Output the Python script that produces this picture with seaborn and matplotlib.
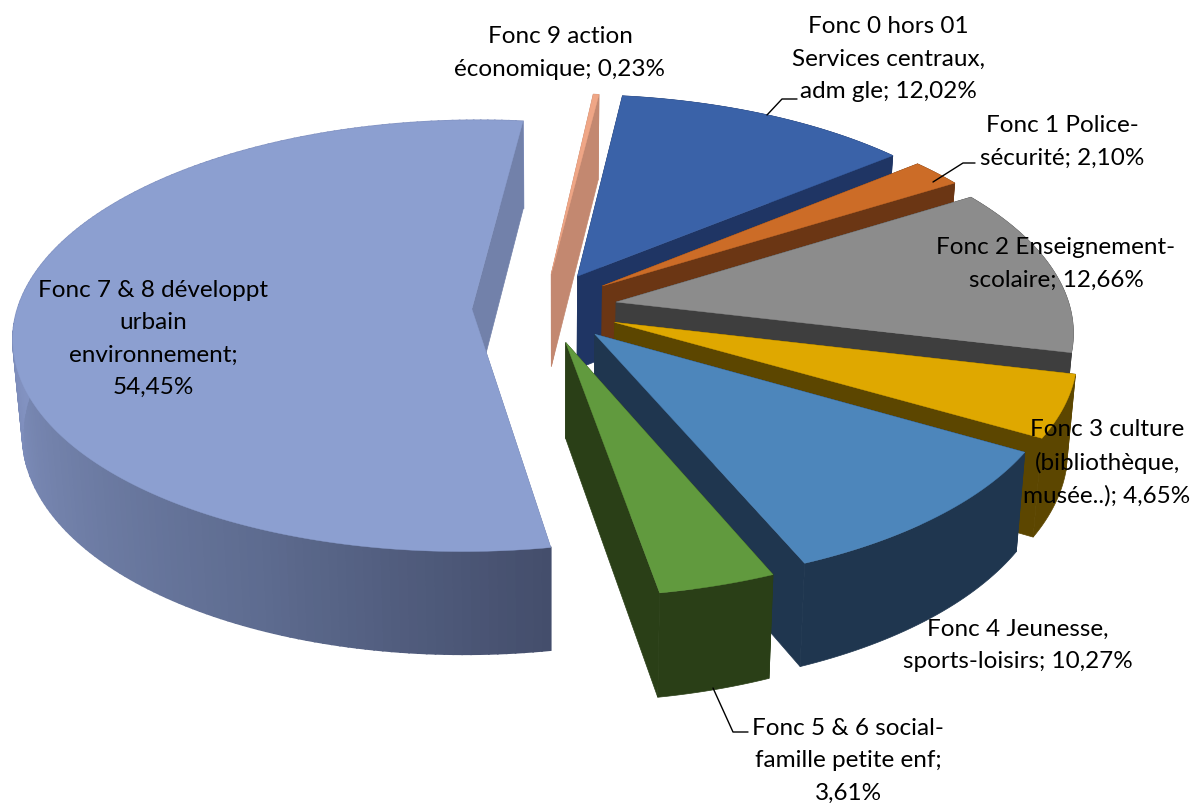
import numpy as np
import matplotlib
matplotlib.use('Agg')
import matplotlib.pyplot as plt
import seaborn as sns

# ====== DATA
labels = ['Fonc 0 hors 01\nServices centraux,\nadm gle; 12,02%',
          'Fonc 1 Police-\nsécurité; 2,10%',
          'Fonc 2 Enseignement-\nscolaire; 12,66%',
          'Fonc 3 culture\n(bibliothèque,\nmusée..); 4,65%',
          'Fonc 4 Jeunesse,\nsports-loisirs; 10,27%',
          'Fonc 5 & 6 social-\nfamille petite enf;\n3,61%',
          'Fonc 7 & 8 développt\nurbain\nenvironnement;\n54,45%',
          'Fonc 9 action\néconomique; 0,23%']
shares = [12.02, 2.10, 12.66, 4.65, 10.27, 3.61, 54.45, 0.23]

# ====== STYLE
explode = [0.18, 0.18, 0.175, 0.18, 0.18, 0.19, 0.1435, 0.18]
nudge = [(2, 1), (0, 0), (1, 0), (1, 0), (3, -3), (4, -5), (0, 0), (5, 3)]
top_colors = ['#3A62A8', '#CC6C27', '#8C8C8C', '#DFA800', '#4D86BB', '#619A3E', '#8C9FD0', '#EFA686']
wall_colors = ['#1F3564', '#6B3614', '#3E3E3E', '#5C4600', '#1F364F', '#2A3F17', '#7281AA', '#C38870']
label_xy = [(888, 59), (1062, 142), (1056, 264), (1107, 463), (1018, 645), (848, 761), (153, 339), (560, 53)]
leaders = [[(767, 116), (782, 100), (797, 100)],
           [(933, 183), (963, 164), (975, 164)],
           [(713, 689), (733, 733), (748, 733)]]

start_angle = 7.1
cx, cy = 537, 309
R, Q, k = 454, 212, 0.125
depth, kd = 94, 0.085
vx, shrink = 550, 0.982


def top_point(a, b):
    f = 1 / (1 - k * b)
    return cx + R * a * f, cy + Q * b * f


def bottom_point(a, b):
    x, y = top_point(a, b)
    return vx + (x - vx) * shrink, y + depth / (1 - kd * b)


def world(theta, r, off, mid):
    return (r * np.sin(theta) + off * np.sin(mid),
            -r * np.cos(theta) - off * np.cos(mid))


sns.set_theme(style='white')
plt.rcParams['font.family'] = ['Lato', 'DejaVu Sans']

fig, ax = plt.subplots(figsize=(11.97, 8.04), dpi=100)
fig.subplots_adjust(0, 0, 1, 1)
ax.set_xlim(0, 1197)
ax.set_ylim(804, 0)
ax.axis('off')

edges = start_angle + np.concatenate([[0], np.cumsum(shares)]) * 3.6
ramp = sns.blend_palette(['#8292C1', '#7180A9', '#5E6C90', '#444E6C'], 100)


def draw(pts, color, lw, order, shift):
    xs, ys = zip(*pts)
    ax.fill(np.array(xs) + shift[0], np.array(ys) + shift[1], color=color, lw=lw, zorder=order)


# back slices first, the front ones paint over them
for i in [7, 6, 0, 1, 2, 3, 4, 5]:
    t0, t1 = np.radians(edges[i]), np.radians(edges[i + 1])
    mid = (t0 + t1) / 2
    off = explode[i]
    thetas = np.linspace(t0, t1, max(int(shares[i] * 3.6), 3) + 1)
    tip = world(0, 0, off, mid)
    rim = [world(t, 1, off, mid) for t in thetas]

    def wall(w):
        return [top_point(*tip), top_point(*w), bottom_point(*w), bottom_point(*tip)]

    draw(wall(rim[0]), wall_colors[i], 0.5, i, nudge[i])
    # outer wall
    if i == 6:
        # shading runs from the front edge round to the left side
        for j in range(len(rim) - 1):
            pts = [top_point(*rim[j]), top_point(*rim[j + 1]),
                   bottom_point(*rim[j + 1]), bottom_point(*rim[j])]
            draw(pts, ramp[99 - min(99, j)], 1.2, i, nudge[i])
    else:
        pts = [top_point(*w) for w in rim] + [bottom_point(*w) for w in rim[::-1]]
        draw(pts, wall_colors[i], 0.5, i, nudge[i])
    draw(wall(rim[-1]), wall_colors[i], 0.5, i, nudge[i])
    # top face
    draw([top_point(*tip)] + [top_point(*w) for w in rim], top_colors[i], 0.3, i, nudge[i])

for line in leaders:
    ax.plot(*zip(*line), color='black', lw=1, zorder=20)

for text, (x, y) in zip(labels, label_xy):
    ax.text(x, y, text, ha='center', va='center', multialignment='center',
            fontsize=17.5, color='black', linespacing=1.66, zorder=30)

fig.savefig('out.png', dpi=100, facecolor='white')
